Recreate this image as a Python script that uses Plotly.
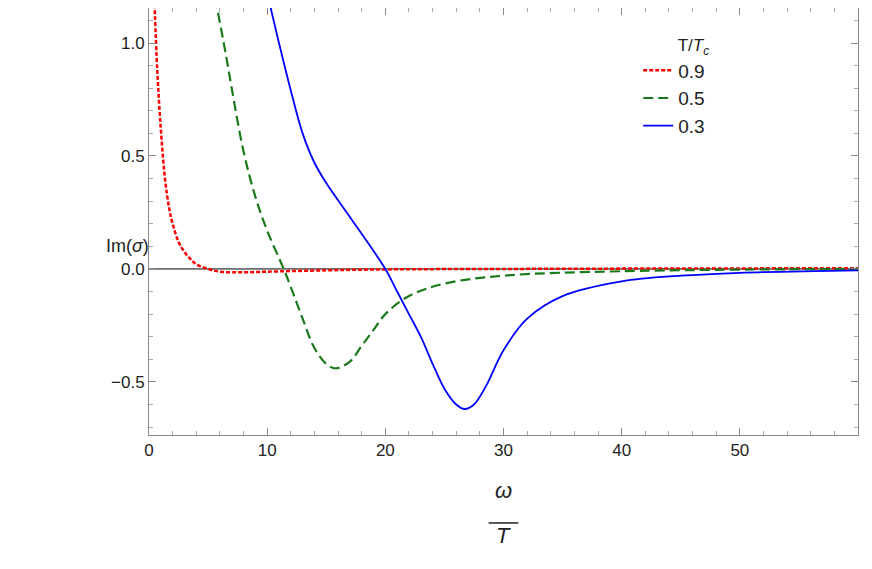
import plotly.graph_objects as go

# T/Tc = 0.9
x_09 = [0.45, 0.7, 1.0, 1.35, 1.7, 2.0, 2.5, 3.0, 3.5, 4.0, 5.0, 6.0, 8.0, 10, 15, 20, 30, 45, 60]
y_09 = [1.2, 0.88, 0.62, 0.4, 0.27, 0.2, 0.12, 0.075, 0.045, 0.02, 0.0, -0.012, -0.015, -0.012, -0.006, -0.002, 0.0, 0.002, 0.003]
# T/Tc = 0.5
x_05 = [5.6, 6.5, 7, 8, 9, 10, 11.4, 12, 13, 14, 15, 15.8, 17, 18, 19, 20, 22, 25, 30, 40, 60]
y_05 = [1.2, 0.95, 0.8, 0.52, 0.32, 0.17, 0.0, -0.08, -0.22, -0.35, -0.42, -0.44, -0.41, -0.34, -0.27, -0.2, -0.12, -0.065, -0.03, -0.01, 0.0]
# T/Tc = 0.3
x_03 = [10.1, 11, 12, 13, 14, 15, 17, 20, 21, 22, 23, 24, 25, 26, 26.7, 27.5, 28.5, 30, 32, 35, 40, 45, 50, 60]
y_03 = [1.2, 1.0, 0.79, 0.6, 0.47, 0.38, 0.23, 0.0, -0.1, -0.2, -0.3, -0.42, -0.53, -0.6, -0.62, -0.6, -0.52, -0.36, -0.22, -0.12, -0.055, -0.03, -0.017, -0.006]

fig = go.Figure()
fig.add_trace(go.Scatter(x=[0, 60], y=[0, 0], mode='lines', line=dict(color='black', width=1),
                         showlegend=False, hoverinfo='skip'))
fig.add_trace(go.Scatter(x=x_09, y=y_09, mode='lines', name='0.9', line_shape='spline',
                         line=dict(color='red', width=2.5, dash='4px,2px')))
fig.add_trace(go.Scatter(x=x_05, y=y_05, mode='lines', name='0.5', line_shape='spline',
                         line=dict(color='#1a7a1a', width=2.2, dash='10px,5px')))
fig.add_trace(go.Scatter(x=x_03, y=y_03, mode='lines', name='0.3', line_shape='spline',
                         line=dict(color='blue', width=1.8)))

axis_style = dict(showgrid=False, zeroline=False, showline=True, linecolor='#888', mirror='ticks',
                  ticks='inside', ticklen=7, tickcolor='#888',
                  minor=dict(ticks='inside', ticklen=4, tickcolor='#aaa'),
                  tickfont=dict(size=17, color='#222'))
fig.update_xaxes(range=[0, 60], dtick=10, minor_dtick=2, **axis_style)
fig.update_yaxes(range=[-0.735, 1.155], dtick=0.5, minor_dtick=0.1, tickformat='.1f', **axis_style)

fig.add_annotation(x=-0.03, y=0.443, xref='paper', yref='paper', text='Im(<i>σ</i>)', showarrow=False,
                   font=dict(size=18, color='#222'), xanchor='center')
fig.add_annotation(x=0.5, y=-0.164, xref='paper', yref='paper', text='<i>ω</i>', showarrow=False,
                   font=dict(size=22, color='#222'))
fig.add_annotation(x=0.5, y=-0.269, xref='paper', yref='paper', text='<i>T</i>', showarrow=False,
                   font=dict(size=22, color='#222'))
fig.add_shape(type='line', xref='paper', yref='paper', x0=0.479, x1=0.521, y0=-0.206, y1=-0.206,
              line=dict(color='#222', width=1.5))

fig.update_layout(
    width=856, height=553, plot_bgcolor='white', paper_bgcolor='white',
    margin=dict(l=141, r=6, t=0, b=126),
    font=dict(family='Liberation Sans, Arial', color='#222'),
    legend=dict(x=0.69, y=0.95, bgcolor='rgba(0,0,0,0)', font=dict(size=19),
                tracegroupgap=6,
                title=dict(text='        T/<i>T<sub>c</sub></i>', font=dict(size=17))),
)

fig.write_html("out.html")
